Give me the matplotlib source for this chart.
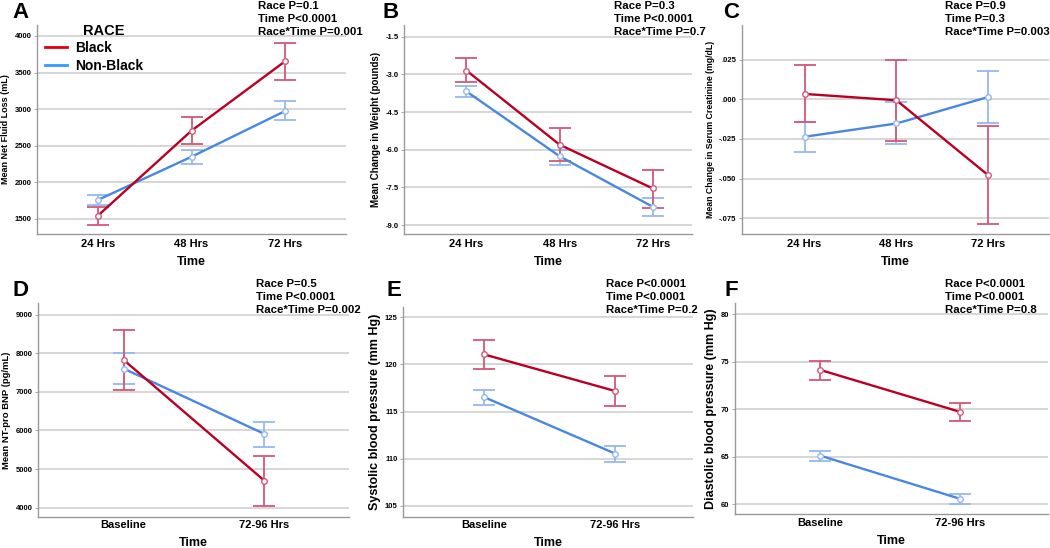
#!/usr/bin/env python3

# Interaction plots of means (95% CI) by race over time, six panels

import matplotlib
matplotlib.use("Agg")
import matplotlib.pyplot as plt
from matplotlib.lines import Line2D

plt.rcParams['font.family'] = ['Liberation Sans', 'DejaVu Sans']

times_3 = ["24 Hrs", "48 Hrs", "72 Hrs"]
times_2 = ["Baseline", "72-96 Hrs"]

# A: net fluid loss (mL)
fluid_black = [1545, 2706, 3655]
fluid_black_lo = [1418, 2520, 3400]
fluid_black_hi = [1668, 2890, 3910]
fluid_nonblack = [1760, 2350, 2975]
fluid_nonblack_lo = [1695, 2250, 2850]
fluid_nonblack_hi = [1825, 2440, 3110]

# B: change in weight (pounds)
weight_black = [-2.85, -5.80, -7.54]
weight_black_lo = [-3.31, -6.43, -8.31]
weight_black_hi = [-2.37, -5.14, -6.82]
weight_nonblack = [-3.68, -6.26, -8.27]
weight_nonblack_lo = [-3.92, -6.62, -8.64]
weight_nonblack_hi = [-3.46, -6.00, -7.91]

# C: change in serum creatinine (mg/dL)
creat_black = [0.0035, -0.0005, -0.048]
creat_black_lo = [-0.0142, -0.026, -0.079]
creat_black_hi = [0.0218, 0.025, -0.0167]
creat_nonblack = [-0.0236, -0.0152, 0.0016]
creat_nonblack_lo = [-0.0331, -0.0283, -0.0146]
creat_nonblack_hi = [-0.0141, -0.0017, 0.018]

# D: NT-pro BNP (pg/mL)
bnp_black = [7831, 4696]
bnp_black_lo = [7044, 4044]
bnp_black_hi = [8610, 5345]
bnp_nonblack = [7605, 5909]
bnp_nonblack_lo = [7216, 5580]
bnp_nonblack_hi = [8005, 6229]

# E: systolic blood pressure (mm Hg)
sbp_black = [121.07, 117.17]
sbp_black_lo = [119.54, 115.61]
sbp_black_hi = [122.62, 118.73]
sbp_nonblack = [116.54, 110.52]
sbp_nonblack_lo = [115.69, 109.67]
sbp_nonblack_hi = [117.31, 111.33]

# F: diastolic blood pressure (mm Hg)
dbp_black = [74.16, 69.75]
dbp_black_lo = [73.10, 68.80]
dbp_black_hi = [75.14, 70.63]
dbp_nonblack = [65.14, 60.60]
dbp_nonblack_lo = [64.61, 60.10]
dbp_nonblack_hi = [65.67, 61.06]

RED = '#ba0022'
RED_ERR = '#d2587a'
BLUE = '#4a87e0'
BLUE_ERR = '#94b9ef'

W, H = 1050, 548

def px_axes(fig, left, top, right, bottom):
    return fig.add_axes([left / W, 1 - bottom / H, (right - left) / W, (bottom - top) / H])

def draw_panel(ax, cats, black, blo, bhi, nonblack, nlo, nhi, ylim, yticks, yticklabels,
               xlim, ylabel, ylabel_size, xpad, xlabelpad):
    x = list(range(len(cats)))
    for means, lo, hi, col, ecol in [(nonblack, nlo, nhi, BLUE, BLUE_ERR),
                                     (black, blo, bhi, RED, RED_ERR)]:
        yerr = [[m - l for m, l in zip(means, lo)], [h - m for m, h in zip(means, hi)]]
        ax.errorbar(x, means, yerr=yerr, fmt='none', ecolor=ecol, elinewidth=1.3,
                    capsize=8, capthick=1.3, zorder=3)
        ax.plot(x, means, color=col, lw=1.7, zorder=4)
        ax.plot(x, means, 'o', ms=4, mfc='white', mec=ecol, mew=1.0, zorder=5)
    ax.set_xlim(*xlim)
    ax.set_ylim(*ylim)
    ax.set_xticks(x)
    ax.set_xticklabels(cats, fontsize=8, fontweight='bold')
    ax.set_yticks(yticks)
    ax.set_yticklabels(yticklabels, fontsize=5.5, fontweight='bold')
    ax.tick_params(axis='x', length=0, pad=xpad)
    ax.tick_params(axis='y', length=2, width=0.6, color='#999999', pad=2)
    ax.grid(axis='y', color='#d3d3d3', lw=1.3)
    ax.set_axisbelow(True)
    for s in ['top', 'right']:
        ax.spines[s].set_visible(False)
    for s in ['left', 'bottom']:
        ax.spines[s].set_color('#999999')
        ax.spines[s].set_linewidth(1.0)
    ax.set_xlabel("Time", fontsize=9, fontweight='bold', labelpad=xlabelpad)
    ax.set_ylabel(ylabel, fontsize=ylabel_size, fontweight='bold', labelpad=3)

fig = plt.figure(figsize=(W / 100, H / 100), dpi=100)

axA = px_axes(fig, 37, 25, 346, 234)
draw_panel(axA, times_3, fluid_black, fluid_black_lo, fluid_black_hi,
           fluid_nonblack, fluid_nonblack_lo, fluid_nonblack_hi,
           (1295, 4150), [1500, 2000, 2500, 3000, 3500, 4000],
           ["1500", "2000", "2500", "3000", "3500", "4000"],
           (-0.65, 2.65), "Mean Net Fluid Loss (mL)", 6.5, 3.5, 5)

axB = px_axes(fig, 404, 25, 692, 234)
draw_panel(axB, times_3, weight_black, weight_black_lo, weight_black_hi,
           weight_nonblack, weight_nonblack_lo, weight_nonblack_hi,
           (-9.35, -1.04), [-9.0, -7.5, -6.0, -4.5, -3.0, -1.5],
           ["-9.0", "-7.5", "-6.0", "-4.5", "-3.0", "-1.5"],
           (-0.67, 2.42), "Mean Change in Weight (pounds)", 7, 3.5, 5)

axC = px_axes(fig, 742, 25, 1049, 234)
draw_panel(axC, times_3, creat_black, creat_black_lo, creat_black_hi,
           creat_nonblack, creat_nonblack_lo, creat_nonblack_hi,
           (-0.0851, 0.0471), [-0.075, -0.05, -0.025, 0.0, 0.025],
           ["-.075", "-.050", "-.025", ".000", ".025"],
           (-0.68, 2.66), "Mean Change in Serum Creatinine (mg/dL)", 6.3, 3.5, 5)

axD = px_axes(fig, 38, 303, 349, 517)
draw_panel(axD, times_2, bnp_black, bnp_black_lo, bnp_black_hi,
           bnp_nonblack, bnp_nonblack_lo, bnp_nonblack_hi,
           (3756, 9304), [4000, 5000, 6000, 7000, 8000, 9000],
           ["4000", "5000", "6000", "7000", "8000", "9000"],
           (-0.607, 1.60), "Mean NT-pro BNP (pg/mL)", 6.8, 2.5, 5)

axE = px_axes(fig, 403, 307, 693, 517)
draw_panel(axE, times_2, sbp_black, sbp_black_lo, sbp_black_hi,
           sbp_nonblack, sbp_nonblack_lo, sbp_nonblack_hi,
           (103.8, 126.1), [105, 110, 115, 120, 125],
           ["105", "110", "115", "120", "125"],
           (-0.615, 1.59), "Systolic blood pressure (mm Hg)", 9, 2.5, 5)

axF = px_axes(fig, 735, 303, 1048, 514)
draw_panel(axF, times_2, dbp_black, dbp_black_lo, dbp_black_hi,
           dbp_nonblack, dbp_nonblack_lo, dbp_nonblack_hi,
           (59.0, 81.2), [60, 65, 70, 75, 80],
           ["60", "65", "70", "75", "80"],
           (-0.61, 1.63), "Diastolic blood pressure (mm Hg)", 9, 3, 5)

# panel letters and p-value notes
letters = ["A", "B", "C", "D", "E", "F"]
letter_pos = [(12, 13), (383, 13), (723, 13), (13, 290), (387, 290), (725, 290)]
pvals = [["Race P=0.1", "Time P<0.0001", "Race*Time P=0.001"],
         ["Race P=0.3", "Time P<0.0001", "Race*Time P=0.7"],
         ["Race P=0.9", "Time P=0.3", "Race*Time P=0.003"],
         ["Race P=0.5", "Time P<0.0001", "Race*Time P=0.002"],
         ["Race P<0.0001", "Time P<0.0001", "Race*Time P=0.2"],
         ["Race P<0.0001", "Time P<0.0001", "Race*Time P=0.8"]]
pval_pos = [(258, 6), (614, 6), (945, 6), (256, 284), (606, 284), (945, 284)]

for letter, (lx, ly) in zip(letters, letter_pos):
    fig.text(lx / W, 1 - ly / H, letter, fontsize=16, fontweight='bold', va='center', ha='left')

for lines, (px, py) in zip(pvals, pval_pos):
    for i, line in enumerate(lines):
        fig.text(px / W, 1 - (py + i * 13) / H, line, fontsize=8.2, fontweight='bold',
                 va='center', ha='left')

# legend in panel A
fig.text(83 / W, 1 - 31 / H, "RACE", fontsize=10.5, fontweight='bold', va='center', ha='left')
handles = [Line2D([0], [0], color='#e00010', lw=2), Line2D([0], [0], color='#3399ff', lw=2)]
axA.legend(handles, ["Black", "Non-Black"], loc='upper left', bbox_to_anchor=(0.026, 0.925),
           frameon=False, prop={'size': 10, 'weight': 'bold'}, handlelength=1.55,
           handletextpad=0.6, labelspacing=0.28, borderaxespad=0, borderpad=0)

fig.savefig("out.png", dpi=100)
